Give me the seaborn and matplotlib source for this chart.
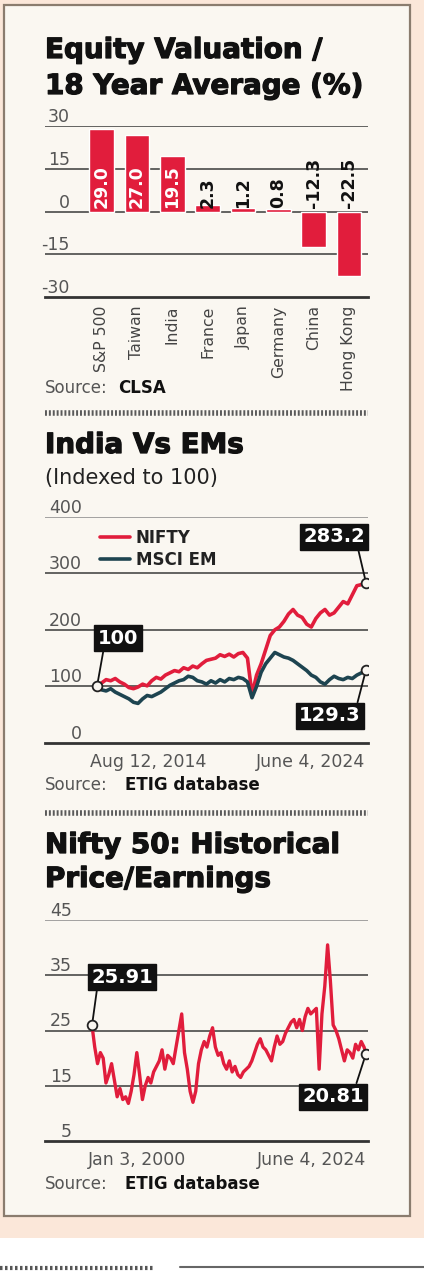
import numpy as np
import pandas as pd
import matplotlib
matplotlib.use("Agg")
import matplotlib.pyplot as plt
import matplotlib.patheffects as pe
from matplotlib.patches import Rectangle
from matplotlib.lines import Line2D
import seaborn as sns

# ---------------- data ----------------
val_categories = ["S&P 500", "Taiwan", "India", "France", "Japan", "Germany", "China", "Hong Kong"]
val_values = [29.0, 27.0, 19.5, 2.3, 1.2, 0.8, -12.3, -22.5]
val_yticks = [-30, -15, 0, 15, 30]

idx_start, idx_end = "2014-08-12", "2024-06-04"
nifty = [100, 106, 112, 110, 114, 108, 104, 98, 96, 99,
         104, 101, 110, 116, 113, 120, 124, 128, 126, 133,
         130, 136, 133, 140, 146, 148, 150, 156, 153, 157,
         152, 158, 160, 150, 86, 120, 140, 165, 190, 200,
         205, 215, 228, 236, 226, 222, 210, 205, 220, 230,
         236, 226, 230, 240, 250, 246, 262, 278, 280, 283.2]
msci = [100, 94, 92, 96, 90, 86, 82, 78, 72, 70,
        78, 84, 82, 86, 90, 96, 102, 106, 110, 112,
        118, 116, 110, 108, 104, 110, 106, 112, 108, 114,
        112, 116, 114, 108, 80, 100, 125, 140, 150, 160,
        156, 152, 150, 146, 140, 134, 128, 120, 116, 108,
        104, 112, 118, 114, 112, 116, 114, 120, 124, 129.3]
idx_yticks = [0, 100, 200, 300, 400]
idx_xlabels = ["Aug 12, 2014", "June 4, 2024"]

pe_values = [25.91, 22, 19, 21, 20, 15.5, 17, 19, 16, 13,
             14.5, 12.5, 13, 11.8, 14, 17, 21, 17, 12.5, 15,
             16.5, 15.5, 17.5, 18.5, 19.5, 21.5, 18, 20.5, 20, 19,
             22, 25, 28, 21, 18, 14, 12, 14, 19, 21.5,
             23, 22, 24, 25.5, 22, 20.5, 21, 19, 18, 19.5,
             17.5, 18.5, 17, 16.5, 17.5, 18, 18.5, 19.5, 21, 22.5,
             23.5, 22, 21.5, 20.5, 19.5, 22, 24, 22.5, 23, 24.5,
             25.5, 26.5, 27, 25.5, 27, 25, 27.5, 29, 28, 28.5,
             29, 18, 28, 33, 40.5, 34, 26, 25, 23.5, 21.5,
             19.5, 21.5, 21, 20, 22.5, 21.5, 23, 22, 20.81]
pe_yticks = [5, 15, 25, 35, 45]
pe_xlabels = ["Jan 3, 2000", "June 4, 2024"]

# ---------------- style ----------------
W, H = 424, 1271
RED = "#e11d3c"
TEAL = "#1d4450"
PEACH = "#fbe7d9"
CREAM = "#faf7f1"
GRID = "#3a3a3a"
sns.set_theme(style="white")
plt.rcParams["font.family"] = ["DejaVu Sans"]
plt.rcParams["axes.unicode_minus"] = False
TICK_SIZE = 12.5

fig = plt.figure(figsize=(W / 100, H / 100), dpi=100)
fig.patch.set_facecolor(PEACH)


def rect(l, t, r, b):
    return [l / W, 1 - b / H, (r - l) / W, (b - t) / H]


def ftext(x, y, s, **kw):
    return fig.text(x / W, 1 - y / H, s, **kw)


# frame
fig.add_artist(Rectangle((4 / W, 1 - 1216 / H), 406 / W, 1211 / H, transform=fig.transFigure,
                         facecolor=CREAM, edgecolor="#8a7c6e", lw=1.6, zorder=-5))
fig.add_artist(Rectangle((0, 0), 1, 33 / H, transform=fig.transFigure,
                         facecolor="white", edgecolor="none", zorder=-6))
fig.add_artist(Line2D([0, 155 / W], [1 - 1268 / H] * 2, transform=fig.transFigure,
                      color="#555", lw=3, dashes=(0.6, 0.6), zorder=-4))
fig.add_artist(Line2D([180 / W, 1], [1 - 1267 / H] * 2, transform=fig.transFigure,
                      color="#666", lw=1.5, zorder=-4))


def style_axes(ax, yticks, label_right_px, top_color=GRID):
    ax.set_facecolor("none")
    for s in ["top", "right", "left"]:
        ax.spines[s].set_visible(False)
    ax.spines["bottom"].set_color("#333")
    ax.spines["bottom"].set_linewidth(2)
    ax.set_yticks(yticks)
    ax.set_ylim(yticks[0], yticks[-1])
    ax.tick_params(axis="y", length=0, pad=-(label_right_px - 45) * 0.72,
                   labelcolor="#555", labelsize=TICK_SIZE)
    for lab in ax.get_yticklabels():
        lab.set_va("bottom")
        lab.set_ha("right")
    for y in yticks[1:]:
        ax.axhline(y, color=top_color if y == yticks[-1] else GRID, lw=1.1, zorder=0.5)
    ax.set_xlabel("")
    ax.set_ylabel("")


def dotted(y):
    fig.add_artist(Line2D([45 / W, 368 / W], [1 - y / H] * 2, transform=fig.transFigure,
                          color="#5a5a5a", lw=4, dashes=(0.35, 0.35)))


def title(y, s):
    t = ftext(45, y, s, fontsize=20, fontweight="bold", va="center", color="#111")
    t.set_path_effects([pe.withStroke(linewidth=0.9, foreground="#111")])


def source(y, bold, xb):
    ftext(45, y, "Source:", fontsize=12, color="#555", va="center")
    ftext(xb, y, bold, fontsize=12, color="#111", va="center", fontweight="bold")


def tag(ax, text, xy, off, relpos):
    ax.annotate(text, xy=xy, xytext=off, textcoords="offset pixels", ha="center", va="center",
                fontsize=14, fontweight="bold", color="white", zorder=6,
                bbox=dict(boxstyle="square,pad=0.18", fc="#111", ec="#111"),
                arrowprops=dict(arrowstyle="-", color="#111", lw=1.3, shrinkA=0, shrinkB=3,
                                relpos=relpos))


def endpoint(ax, x, y):
    ax.plot([x], [y], marker="o", ms=7, mfc=CREAM, mec="#222", mew=1.3, zorder=7)


def date_ticks(ax, t0, t1, labels):
    ax.set_xticks([t0, t1])
    ax.set_xticklabels(labels)
    ax.tick_params(axis="x", length=0, pad=7, labelsize=12.5, labelcolor="#555")
    xl = ax.get_xticklabels()
    xl[0].set_ha("left")
    xl[1].set_ha("right")


# ---------------- chart 1 ----------------
title(50, "Equity Valuation /")
title(86, "18 Year Average (%)")

ax1 = fig.add_axes(rect(45, 126, 368, 297))
sns.barplot(x=val_categories, y=val_values, color=RED, saturation=1, width=0.7, ax=ax1, zorder=2)
style_axes(ax1, val_yticks, 70)
ax1.set_xlim(-1.6, 7.54)
ax1.tick_params(axis="x", length=0, pad=6, labelsize=11.3, labelcolor="#444")
for lab in ax1.get_xticklabels():
    lab.set_rotation(90)
    lab.set_va("top")
for i, v in enumerate(val_values):
    inside = v > 10
    ax1.annotate(f"{v:.1f}", xy=(i, 0), xytext=(0, 4), textcoords="offset pixels",
                 rotation=90, ha="center", va="bottom", fontsize=12.5, fontweight="bold",
                 color="white" if inside else "#111", zorder=5)
source(388, "CLSA", 118)
dotted(413)

# ---------------- chart 2 ----------------
title(445, "India Vs EMs")
ftext(45, 478, "(Indexed to 100)", fontsize=15, va="center", color="#222")

dates2 = pd.date_range(idx_start, idx_end, periods=len(nifty))
df2 = pd.DataFrame({"date": list(dates2) * 2, "value": nifty + msci,
                    "series": ["NIFTY"] * len(nifty) + ["MSCI EM"] * len(msci)})
ax2 = fig.add_axes(rect(45, 516.7, 368, 743))
sns.lineplot(data=df2, x="date", y="value", hue="series", palette={"NIFTY": RED, "MSCI EM": TEAL},
             lw=2.6, ax=ax2, zorder=3)
style_axes(ax2, idx_yticks, 82, top_color="#8a8a8a")
d0, d1 = dates2[0], dates2[-1]
span = (d1 - d0) / (366 - 97)
ax2.set_xlim(d0 - span * (97 - 45), d1 + span * (368 - 366))
date_ticks(ax2, d0 - span * 7, d1 - span * 1, idx_xlabels)
leg = ax2.legend(loc="upper left", bbox_to_anchor=(0.15, 0.975), frameon=False, handlelength=1.8,
                 handletextpad=0.35, labelspacing=0.22, borderaxespad=0,
                 prop=dict(weight="bold", size=12))
for t in leg.get_texts():
    t.set_color("#222")
for ln in leg.get_lines():
    ln.set_linewidth(2.6)
endpoint(ax2, d0, nifty[0])
endpoint(ax2, d1, nifty[-1])
endpoint(ax2, d1, msci[-1])
tag(ax2, "100", (d0, nifty[0]), (21, 48), (0.15, 0))
tag(ax2, f"{nifty[-1]:.1f}", (d1, nifty[-1]), (-32, 46), (0.88, 0))
tag(ax2, f"{msci[-1]:.1f}", (d1, msci[-1]), (-36, -46), (0.93, 1))
source(785, "ETIG database", 125)
dotted(813)

# ---------------- chart 3 ----------------
title(845, "Nifty 50: Historical")
title(879, "Price/Earnings")

dates3 = list(pd.date_range("2000-01-01", "2024-04-01", freq="QS"))
dates3[0] = pd.Timestamp("2000-01-03")
dates3.append(pd.Timestamp("2024-06-04"))
df3 = pd.DataFrame({"date": dates3, "pe": pe_values})
ax3 = fig.add_axes(rect(45, 920, 368, 1141))
sns.lineplot(data=df3, x="date", y="pe", color=RED, lw=2.4, ax=ax3, zorder=3)
style_axes(ax3, pe_yticks, 72, top_color="#8a8a8a")
e0, e1 = dates3[0], dates3[-1]
span3 = (e1 - e0) / (366 - 92)
ax3.set_xlim(e0 - span3 * (92 - 45), e1 + span3 * (368 - 366))
date_ticks(ax3, e0 - span3 * 4, e1, pe_xlabels)
endpoint(ax3, e0, pe_values[0])
endpoint(ax3, e1, pe_values[-1])
tag(ax3, f"{pe_values[0]:.2f}", (e0, pe_values[0]), (30, 48), (0.1, 0))
tag(ax3, f"{pe_values[-1]:.2f}", (e1, pe_values[-1]), (-33, -43), (0.86, 1))
source(1184, "ETIG database", 125)

fig.savefig("out.png", dpi=100, facecolor=fig.get_facecolor())
